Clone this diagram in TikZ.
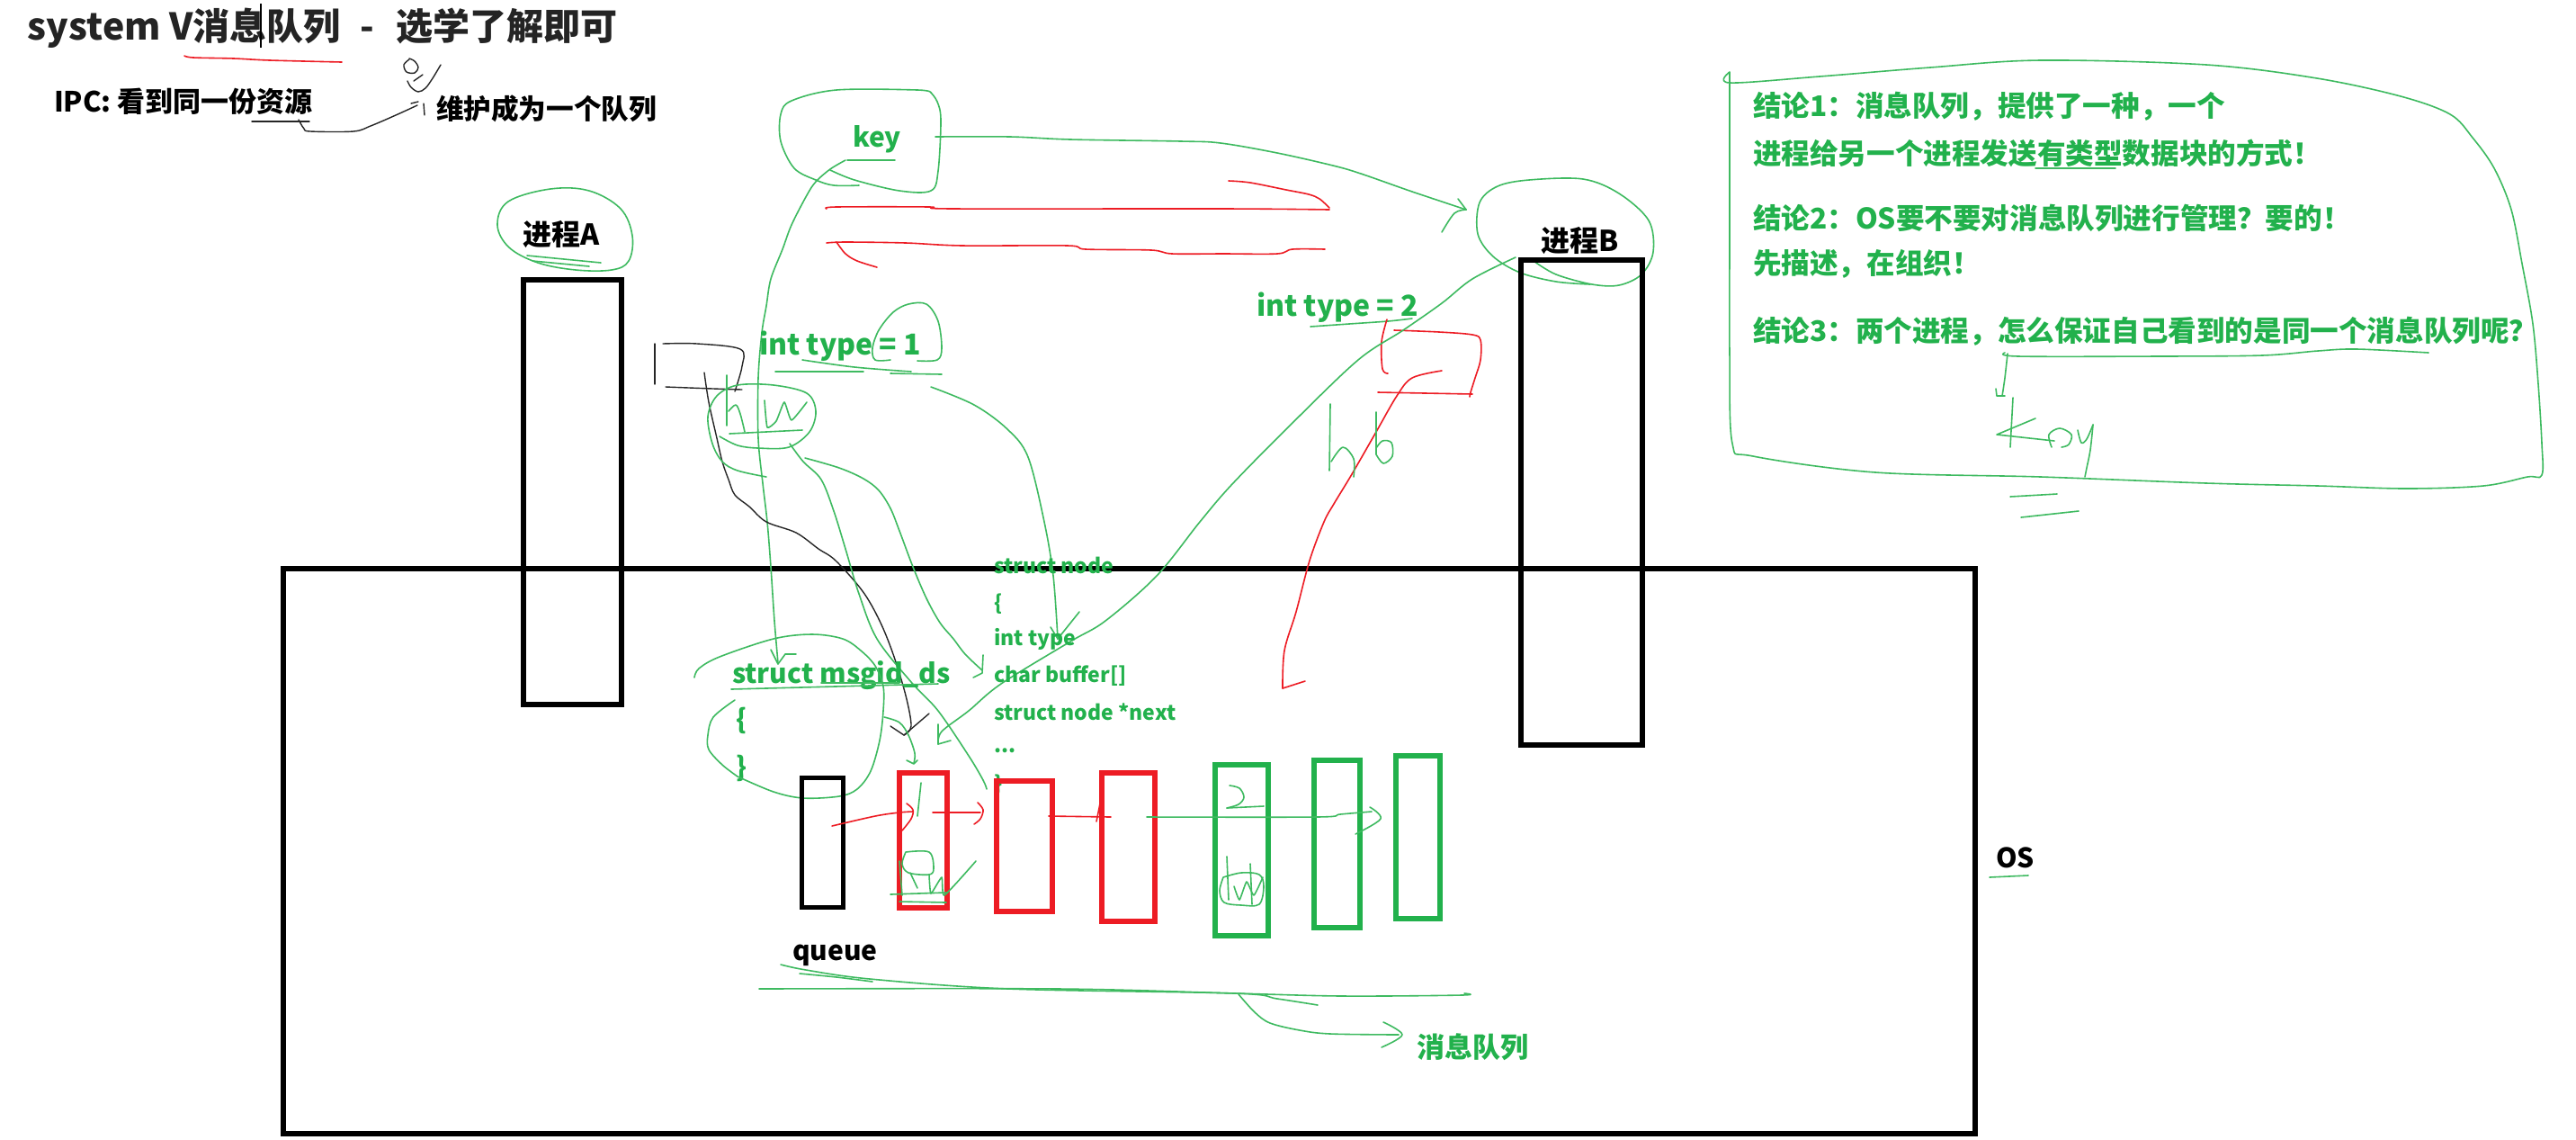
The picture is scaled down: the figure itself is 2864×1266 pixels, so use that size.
\documentclass[tikz,border=0pt]{standalone}
\usepackage{fontspec}
\setmainfont{Noto Sans CJK SC}
\definecolor{gtext}{RGB}{34,177,76}
\definecolor{gline}{RGB}{62,186,96}
\definecolor{rline}{RGB}{237,28,36}
\definecolor{ttl}{RGB}{36,36,36}
\newcommand\myfs[1]{\fontsize{#1}{#1}\selectfont\bfseries}
\tikzset{
  gl/.style={draw=gline, line width=0.8pt, line cap=round, line join=round},
  rl/.style={draw=rline, line width=0.8pt, line cap=round, line join=round},
  kl/.style={draw=black!85, line width=0.7pt, line cap=round, line join=round},
  sm/.style={smooth, tension=0.55},
  txt/.style={anchor=west, inner sep=0pt, outer sep=0pt},
  gt/.style={txt, text=gtext},
  kt/.style={txt, text=black},
  procbox/.style={draw=black, line width=3pt},
  qbox/.style={line width=3pt},
}
\begin{document}
\begin{tikzpicture}[x=0.5pt,y=-0.5pt]
\useasboundingbox (0,0) rectangle (2864,1266);
\fill[white] (0,0) rectangle (2864,1266);

% ---------- title area ----------
\node[txt, text=ttl, font=\myfs{20.5}] (title) at (31,31) {system V消息队列\hspace{11pt}-\hspace{12pt}选学了解即可};
\draw[rl] plot[sm] coordinates {(205,62) (215,64) (260,65) (300,67) (380,69)};
\draw[black, line width=0.6pt] (290,4) -- (290,53);
\node[kt, font=\myfs{15.5}] (ipc) at (60,113) {IPC: 看到同一份资源};
\node[kt, font=\myfs{15.3}] (wh) at (485,121) {维护成为一个队列};
\draw[kl] (280,135) -- (344,135);
\draw[kl] plot[sm] coordinates {(332,133) (338,143) (345,146) (393,146) (412,140) (440,128) (464,117)};
\draw[kl] (457,115) -- (465,113);
\draw[kl] (471,115) -- (472,128);
\draw[kl] plot[sm] coordinates {(455,66) (449,72) (452,80) (461,81) (465,75) (461,68) (455,65)};
\draw[kl] plot[sm] coordinates {(490,72) (481,87) (473,98) (465,102) (457,97) (453,90)};
\draw[kl] (460,90) -- (470,83);

% ---------- right conclusions box ----------
\draw[gl] plot[sm] coordinates {(1923,80) (1923,92) (2023,85) (2146,75) (2269,67) (2453,72) (2576,87) (2669,107) (2724,127) (2749,153) (2773,187) (2792,233) (2804,293) (2816,360) (2822,427) (2826,493) (2826,528) (2810,530) (2761,540) (2675,543) (2577,540) (2453,537) (2269,530) (2085,525) (1949,507) (1926,493) (1923,393) (1923,260) (1923,80)};
\node[gt, font=\myfs{15.8}] (c1) at (1949,118) {结论1：消息队列，提供了一种，一个};
\node[gt, font=\myfs{15.8}] (c1b) at (1949,170) {进程给另一个进程发送有类型数据块的方式！};
\node[gt, font=\myfs{15.8}] (c2) at (1949,242) {结论2：OS要不要对消息队列进行管理？要的！};
\node[gt, font=\myfs{15.8}] (c2b) at (1949,293) {先描述，在组织！};
\node[gt, font=\myfs{15.8}] (c3) at (1949,368) {结论3：两个进程，怎么保证自己看到的是同一个消息队列呢？};
\draw[gl] (2263,187) -- (2352,187);
\draw[gl] plot[sm] coordinates {(2229,392) (2244,396) (2400,396) (2515,395) (2577,390) (2620,388) (2700,392)};
\draw[gl] plot[sm] coordinates {(2232,393) (2229,420) (2226,440)};
\draw[gl] (2219,432) -- (2220,440) -- (2229,440);
% handwritten Key
\draw[gl] (2238,442) -- (2235,497);
\draw[gl] (2263,465) -- (2220,483) -- (2284,490);
\draw[gl] plot[sm] coordinates {(2281,497) (2278,483) (2290,476) (2303,483) (2300,494) (2292,497)};
\draw[gl] plot[sm] coordinates {(2310,478) (2314,492) (2320,488) (2327,472)};
\draw[gl] plot[sm] coordinates {(2327,472) (2324,500) (2320,520) (2318,530)};
\draw[gl] (2235,552) -- (2287,549);
\draw[gl] (2247,575) -- (2311,568);

% ---------- processes ----------
\node[kt, font=\myfs{16}] (pa) at (581,261) {进程A};
\draw[gl] plot[smooth cycle, tension=0.6] coordinates {(612,210) (655,212) (690,232) (703,262) (699,290) (680,300) (640,300) (598,292) (566,275) (553,250) (565,224)};
\draw[gl] (586,284) -- (668,292);
\draw[gl] (592,290) -- (655,296);
\draw[procbox] (582,311) rectangle (691,783);

\node[kt, font=\myfs{16}] (pb) at (1713,268) {进程B};
\draw[gl] plot[sm] coordinates {(1705,290) (1730,305) (1770,316) (1800,317) (1825,305) (1838,280) (1833,245) (1800,215) (1760,199) (1700,200) (1665,207) (1645,225) (1643,260) (1660,285) (1690,303) (1730,313) (1768,316)};
\draw[procbox] (1691,289) rectangle (1826,828);

% OS box
\draw[black, line width=3pt] (315,632) rectangle (2196,1260);
\node[kt, font=\myfs{15}] (os) at (2219,953) {OS};
\draw[gl] (2212,975) -- (2255,973);

% ---------- key ----------
\node[gt, font=\myfs{15}] (key) at (948,155) {key};
\draw[gl] plot[sm] coordinates {(1035,103) (1020,100) (930,100) (880,112) (868,127) (868,157) (883,187) (907,200) (927,206) (955,206)};
\draw[gl] plot[sm] coordinates {(923,189) (950,200) (1000,212) (1035,212) (1043,190) (1046,133) (1042,113) (1035,103)};
\draw[gl] (942,178) -- (995,178);
% key -> process B
\draw[gl] plot[sm] coordinates {(1040,152) (1123,152) (1190,155) (1313,157) (1357,159) (1420,170) (1482,184) (1513,193) (1570,213) (1630,233)};
\draw[gl] (1621,221) -- (1630,233);
\draw[gl] plot[sm] coordinates {(1630,233) (1617,237) (1603,258)};
% key -> struct msgid_ds
\draw[gl] plot[sm] coordinates {(940,178) (923,188) (907,202) (897,217) (880,250) (870,277) (857,310) (852,340) (847,370) (843,420) (843,487) (848,537) (853,580) (857,630) (861,690) (865,737)};
\draw[gl] (857,722) -- (865,738) -- (873,727) -- (885,727);

% red arrows between processes
\draw[rl] plot[sm] coordinates {(919,232) (930,230) (1033,230) (1060,232) (1360,232) (1478,233)};
\draw[rl] plot[sm] coordinates {(1478,231) (1467,221) (1455,216) (1430,211) (1390,203) (1366,201)};
\draw[rl] plot[sm] coordinates {(919,270) (940,269) (1007,270) (1070,273) (1187,273) (1207,277) (1280,278) (1303,282) (1360,282) (1420,282) (1437,277) (1473,277)};
\draw[rl] plot[sm] coordinates {(930,269) (940,282) (953,290) (975,297)};

% ---------- int type = 2 side ----------
\node[gt, font=\myfs{16}] (t2) at (1397,342) {int type = 2};
\draw[gl] plot[sm] coordinates {(1457,363) (1500,360) (1543,357) (1570,354)};
\draw[rl] plot[sm] coordinates {(1550,367) (1600,369) (1637,372) (1646,378) (1646,400) (1640,420) (1635,436) (1634,441)};
\draw[rl] (1532,436) -- (1637,438);
\draw[rl] plot[sm] coordinates {(1542,355) (1536,380) (1537,410) (1543,415)};
\draw[rl] plot[sm] coordinates {(1603,412) (1570,420) (1553,440) (1530,480) (1503,527) (1483,560) (1472,580) (1456,623) (1441,680) (1428,723) (1426,765)};
\draw[rl] (1426,765) -- (1451,757);
% handwritten hb
\draw[gl] (1479,449) -- (1478,523);
\draw[gl] plot[sm] coordinates {(1480,513) (1493,497) (1505,510) (1505,530)};
\draw[gl] (1530,458) -- (1530,505);
\draw[gl] plot[sm] coordinates {(1530,498) (1537,490) (1547,492) (1548,507) (1538,515) (1530,505)};
% process B -> queue
\draw[gl] plot[sm] coordinates {(1685,286) (1637,310) (1603,337) (1560,367) (1510,400) (1437,470) (1370,538) (1334,580) (1286,640) (1229,690) (1190,713) (1113,760) (1077,790) (1047,813) (1043,827)};
\draw[gl] (1043,805) -- (1043,827) -- (1057,823);

% ---------- int type = 1 side ----------
\node[gt, font=\myfs{16}] (t1) at (844,385) {int type = 1};
\draw[gl] plot[sm] coordinates {(990,400) (973,400) (970,387) (977,367) (993,347) (1010,338) (1030,338) (1043,357) (1047,387) (1042,400) (1020,401)};
\draw[gl] plot[sm] coordinates {(892,400) (950,408) (1013,413)};
\draw[gl] (862,413) -- (960,413);
\draw[gl] (990,415) -- (1047,416);
% black message block
\draw[kl] (728,382) -- (728,427);
\draw[kl] plot[sm] coordinates {(737,382) (775,382) (823,388) (825,407) (817,435)};
\draw[kl] plot[sm] coordinates {(740,430) (793,432) (825,433)};
\draw[kl] plot[sm] coordinates {(783,414) (788,447) (797,487) (803,513) (810,533) (817,550) (833,563) (852,580) (885,592) (910,610) (929,623) (959,657) (978,690) (993,727) (1007,773) (1013,807) (1005,817)};
\draw[kl] (990,807) -- (1005,817) -- (1033,793);
% hw circle
\draw[gl] plot[sm] coordinates {(800,485) (820,495) (843,498) (877,497) (900,480) (907,457) (897,437) (860,428) (820,428) (797,440) (787,463) (792,493) (803,513) (820,523) (852,530)};
\draw[gl] (808,417) -- (808,473);
\draw[gl] plot[sm] coordinates {(810,457) (818,450) (823,460) (828,480)};
\draw[gl] plot[sm, tension=0.3] coordinates {(850,445) (853,475) (863,468) (872,447) (880,467) (897,447)};
\draw[gl] (811,482) -- (892,478);
% hw -> end of node
\draw[gl] plot[sm] coordinates {(878,493) (893,513) (913,533) (927,568) (940,610) (955,660) (975,710) (1013,758) (1043,790) (1077,840) (1093,867) (1097,877)};
% hw -> char buffer[]
\draw[gl] plot[sm] coordinates {(895,509) (933,520) (960,532) (977,545) (990,565) (1000,590) (1015,630) (1030,665) (1045,692) (1060,710) (1073,727) (1092,745)};
\draw[gl] (1093,728) -- (1092,748) -- (1082,753);
% int type = 1 -> int type
\draw[gl] plot[sm] coordinates {(1035,430) (1083,450) (1120,477) (1143,508) (1161,580) (1171,640) (1176,710)};
\draw[gl] (1168,697) -- (1176,710) -- (1200,680);

% ---------- struct msgid_ds ----------
\node[gt, font=\myfs{15}] (ds) at (814,751) {struct msgid\_ds};
\draw[gl] (813,766) -- (1043,760);
\draw[gl] (913,759) -- (1000,759);
\node[gt, font=\myfs{15}] (dsl) at (818,801) {\{};
\node[gt, font=\myfs{15}] (dsr) at (818,854) {\}};
\draw[gl] plot[sm] coordinates {(820,863) (860,880) (893,887) (933,885) (953,877) (968,857) (978,823) (982,790) (982,763) (973,740) (957,723) (937,710) (903,705) (860,710) (800,730) (777,743) (772,753)};
\draw[gl] plot[sm] coordinates {(817,778) (793,797) (787,817) (788,833) (803,850) (820,863)};
\draw[gl] plot[sm] coordinates {(983,797) (1000,803) (1010,817) (1017,837) (1016,848)};
\draw[gl] (1008,845) -- (1016,849) -- (1020,845);

% ---------- struct node ----------
\node[gt, font=\myfs{11.5}] (n1) at (1105,628) {struct node};
\node[gt, font=\myfs{11.5}] (n2) at (1105,671) {\{};
\node[gt, font=\myfs{11.5}] (n3) at (1105,710) {int type};
\node[gt, font=\myfs{11.5}] (n4) at (1105,751) {char buffer[]};
\node[gt, font=\myfs{11.5}] (n5) at (1105,791) {struct node *next};
\node[gt, font=\myfs{11.5}] (n6) at (1105,834) {...};
\node[gt, font=\myfs{11.5}] (n7) at (1105,872) {\}};

% ---------- queue boxes ----------
\draw[qbox, draw=black, line width=2.5pt] (891.5,864.5) rectangle (937.5,1008.5);
\draw[qbox, draw=rline] (1000,859) rectangle (1053,1009);
\draw[qbox, draw=rline] (1108,868) rectangle (1170,1013);
\draw[qbox, draw=rline] (1225,859) rectangle (1284,1024);
\draw[qbox, draw=gtext] (1351,850) rectangle (1410,1040);
\draw[qbox, draw=gtext] (1461,845) rectangle (1512,1031);
\draw[qbox, draw=gtext] (1552,840) rectangle (1601,1021);
% links
\draw[rl] plot[sm] coordinates {(925,918) (973,907) (1000,903) (1015,902)};
\draw[rl] plot[sm] coordinates {(1008,893) (1015,900) (1013,910) (1003,923)};
\draw[rl] (1037,903) -- (1090,903);
\draw[rl] plot[sm] coordinates {(1087,892) (1093,900) (1090,910) (1083,916)};
\draw[rl] (1166,907) -- (1235,908);
\draw[rl] (1223,893) -- (1219,913);
\draw[gl] plot[sm] coordinates {(1275,908) (1464,908) (1490,905) (1525,902)};
\draw[gl] plot[sm] coordinates {(1523,897) (1535,910) (1507,927)};
% marks in boxes
\draw[gl] (1024,870) -- (1020,907);
\draw[gl] plot[sm] coordinates {(1367,873) (1378,876) (1383,886) (1377,894) (1364,898)};
\draw[gl] (1364,898) -- (1405,896);
\draw[gl] plot[sm] coordinates {(1007,947) (1033,947) (1038,965) (1033,972) (1010,970) (1003,960) (1007,947)};
\draw[gl] (1000,957) -- (1003,995);
\draw[gl] (1012,970) -- (1020,987);
\draw[gl] plot[sm, tension=0.3] coordinates {(1033,972) (1035,993) (1047,975) (1050,995) (1085,957)};
\draw[gl] (990,994) -- (1052,992);
\draw[gl] (1000,1002) -- (1052,1003);
\draw[gl] plot[sm] coordinates {(1360,975) (1356,990) (1361,1003) (1380,1006) (1400,1005) (1405,985) (1400,972) (1380,970) (1360,975)};
\draw[gl] (1364,952) -- (1366,1000);
\draw[gl] (1390,960) -- (1392,1005);
\draw[gl] plot[sm, tension=0.3] coordinates {(1372,985) (1378,1000) (1386,980) (1394,995) (1404,975)};

% ---------- queue / message queue label ----------
\node[kt, font=\myfs{15}] (q) at (881,1062) {queue};
\draw[gl] plot[sm] coordinates {(868,1072) (896,1078) (967,1088) (1121,1099) (1373,1104) (1420,1110) (1465,1117)};
\draw[gl] plot[sm] coordinates {(889,1082) (930,1086) (970,1091)};
\draw[gl] plot[sm] coordinates {(844,1099) (1177,1099) (1373,1104) (1493,1107) (1625,1106) (1628,1104)};
\draw[gl] plot[sm] coordinates {(1377,1105) (1395,1125) (1412,1137) (1445,1145) (1479,1149) (1555,1150)};
\draw[gl] plot[sm] coordinates {(1538,1136) (1559,1150) (1536,1164)};
\node[gt, font=\myfs{15.5}] (mq) at (1575,1164) {消息队列};
\end{tikzpicture}
\end{document}
